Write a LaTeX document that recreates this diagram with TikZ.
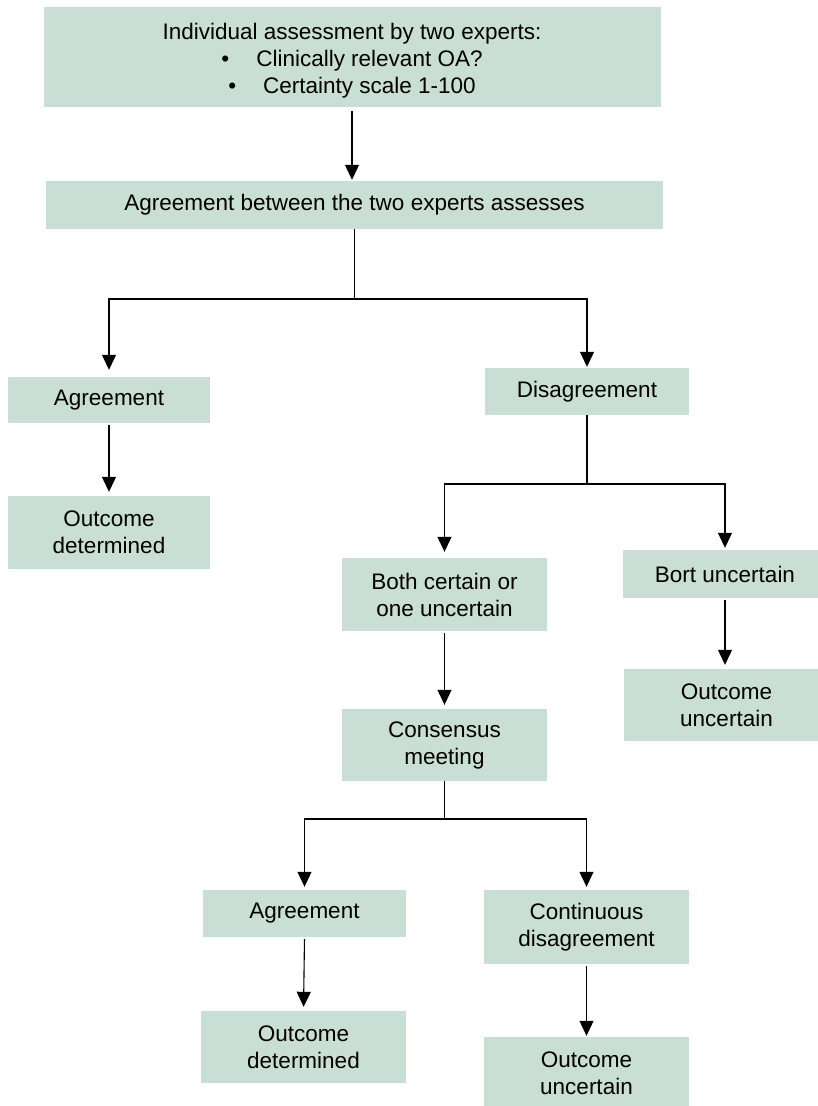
\documentclass[tikz,border=0pt]{standalone}
\usepackage{fontspec}
\setmainfont{Liberation Sans}
\usetikzlibrary{arrows.meta}
\definecolor{boxfill}{RGB}{201,222,212}

\begin{document}
\begin{tikzpicture}[x=1pt,y=1pt,yscale=-1,xscale=1,
  box/.style={fill=boxfill,draw=none,inner sep=0pt,align=center,
    font=\fontsize{22.5}{27}\selectfont},
  arr/.style={line width=1.1pt,-{Triangle[length=15pt,width=14pt]},shorten <=2pt,shorten >=4pt},
  ln/.style={line width=1.1pt}]
%set diagram to 818 x 1106
\clip (0,0) rectangle (818,1106);

%Shape: Boxes
\node [box,minimum width=617,minimum height=100] (assess) at (352,57) {\rule{0pt}{24.5pt}Individual assessment by two experts:\\
  •\hspace{27pt}Clinically relevant OA?\\
  •\hspace{27pt}Certainty scale 1-100};
\node [box,minimum width=617,minimum height=48] (pair) at (354.5,205) {Agreement between the two experts assesses};
\node [box,minimum width=202,minimum height=46] (agreeA) at (109,400) {Agreement};
\node [box,minimum width=204,minimum height=47] (disagree) at (587,391.5) {Disagreement};
\node [box,minimum width=202,minimum height=73] (outcomeA) at (109,532.5) {Outcome\\determined};
\node [box,minimum width=205,minimum height=73] (bothcert) at (444.5,594.5) {Both certain or\\one uncertain};
\node [box,minimum width=205,minimum height=48] (bort) at (725,574) {Bort uncertain};
\node [box,minimum width=205,minimum height=72] (outcomeU) at (726.5,705) {Outcome\\uncertain};
\node [box,minimum width=205,minimum height=72] (consensus) at (444.5,745) {Consensus\\meeting};
\node [box,minimum width=203,minimum height=47] (agreeB) at (304.5,913.5) {Agreement};
\node [box,minimum width=205,minimum height=74] (contdis) at (586.5,927) {Continuous\\disagreement};
\node [box,minimum width=205,minimum height=72] (outcomeB) at (303.5,1047) {Outcome\\determined};
\node [box,minimum width=205,minimum height=72] (outcomeU2) at (586.5,1073) {Outcome\\uncertain};

%Shape: Forks
\coordinate (fork1) at (354.5,299);
\coordinate (fork2) at (587,484);
\coordinate (fork3) at (444.5,819);

%Connectors
\draw [arr,shorten <=4pt,shorten >=1pt] (assess.south) -- (assess.south |- pair.north);
\draw [ln] (pair.south) -- (fork1);
\draw [arr,shorten <=0pt,shorten >=7pt] (fork1) -| (agreeA.north);
\draw [arr,shorten <=0pt,shorten >=1pt] (fork1) -| (disagree.north);
\draw [arr] (agreeA.south) -- (outcomeA.north);
\draw [ln] (disagree.south) -- (fork2);
\draw [arr,shorten <=0pt,shorten >=6pt] (fork2) -| (bothcert.north);
\draw [arr,shorten <=0pt,shorten >=2pt] (fork2) -| (bort.north);
\draw [arr] (bothcert.south) -- (consensus.north);
\draw [arr] (bort.south) -- (bort.south |- outcomeU.north);
\draw [ln] (consensus.south) -- (fork3);
\draw [arr,shorten <=0pt,shorten >=3pt] (fork3) -| (agreeB.north);
\draw [arr,shorten <=0pt,shorten >=3pt] (fork3) -| (contdis.north);
\draw [arr] (agreeB.south) -- (outcomeB.north);
\draw [arr,shorten >=1pt] (contdis.south) -- (outcomeU2.north);

\end{tikzpicture}
\end{document}
